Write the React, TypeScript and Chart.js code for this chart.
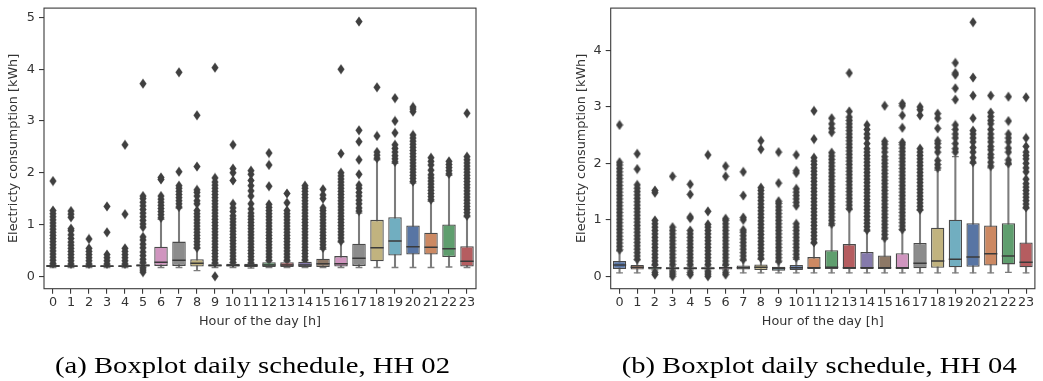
import React, { useEffect, useRef } from 'react';
import { Chart, registerables } from 'chart.js';

Chart.register(...registerables);

// ---------- shared categories / ticks ----------
const hours = ['0', '1', '2', '3', '4', '5', '6', '7', '8', '9', '10', '11', '12', '13', '14', '15', '16', '17', '18', '19', '20', '21', '22', '23'];
const palette = ['#5875A4', '#CC8963', '#5F9E6E', '#B55D60', '#857AAB', '#8D7866', '#D095BF', '#8C8C8C', '#C1B37F', '#71AEC0'];

// ---------- HH 02 ----------
const hh02YTicks = [0, 1, 2, 3, 4, 5];
const hh02Whislo = [0.17, 0.17, 0.17, 0.17, 0.17, 0.18, 0.17, 0.17, 0.11, 0.17, 0.17, 0.16, 0.17, 0.17, 0.17, 0.17, 0.17, 0.17, 0.17, 0.17, 0.17, 0.17, 0.18, 0.17];
const hh02Q1 = [0.18, 0.18, 0.18, 0.18, 0.18, 0.19, 0.2, 0.2, 0.19, 0.19, 0.19, 0.18, 0.18, 0.18, 0.18, 0.18, 0.19, 0.2, 0.29, 0.4, 0.42, 0.42, 0.37, 0.19];
const hh02Med = [0.2, 0.2, 0.2, 0.2, 0.2, 0.21, 0.27, 0.31, 0.25, 0.21, 0.21, 0.21, 0.22, 0.22, 0.22, 0.24, 0.24, 0.35, 0.55, 0.68, 0.57, 0.56, 0.53, 0.29];
const hh02Q3 = [0.22, 0.21, 0.21, 0.21, 0.21, 0.23, 0.57, 0.67, 0.33, 0.23, 0.24, 0.24, 0.27, 0.27, 0.28, 0.34, 0.39, 0.63, 1.09, 1.14, 0.98, 0.84, 1.0, 0.58];
const hh02Whishi = [0.23, 0.22, 0.22, 0.22, 0.22, 0.25, 1.1, 1.32, 0.54, 0.25, 0.26, 0.25, 0.3, 0.29, 0.3, 0.52, 0.66, 1.22, 2.25, 2.18, 1.8, 1.45, 1.95, 1.15];
const hh02Outliers = [
  [0.25, 0.31, 0.37, 0.43, 0.49, 0.55, 0.61, 0.67, 0.73, 0.79, 0.85, 0.91, 0.97, 1.03, 1.09, 1.15, 1.21, 1.27, 1.84],
  [0.24, 0.3, 0.36, 0.42, 0.48, 0.54, 0.6, 0.66, 0.73, 0.8, 0.88, 0.92, 1.14, 1.2, 1.26],
  [0.24, 0.3, 0.36, 0.42, 0.48, 0.54, 0.72],
  [0.24, 0.3, 0.36, 0.42, 0.85, 1.35],
  [0.24, 0.3, 0.36, 0.42, 0.48, 0.54, 1.2, 2.54],
  [0.08, 0.12, 0.16, 0.27, 0.33, 0.4, 0.47, 0.55, 0.62, 0.7, 0.76, 0.95, 1.01, 1.08, 1.15, 1.22, 1.29, 1.36, 1.43, 1.5, 1.55, 3.72],
  [1.13, 1.19, 1.25, 1.31, 1.37, 1.43, 1.49, 1.55, 1.87, 1.91],
  [1.34, 1.4, 1.46, 1.52, 1.58, 1.64, 1.7, 1.75, 2.02, 3.94],
  [0.55, 0.61, 0.67, 0.73, 0.79, 0.85, 0.91, 0.97, 1.03, 1.09, 1.15, 1.21, 1.27, 1.4, 1.46, 1.55, 1.62, 1.67, 2.12, 3.11],
  [0.0, 0.26, 0.32, 0.38, 0.44, 0.5, 0.56, 0.62, 0.68, 0.74, 0.8, 0.86, 0.92, 0.98, 1.04, 1.1, 1.16, 1.22, 1.28, 1.34, 1.4, 1.46, 1.52, 1.58, 1.64, 1.7, 1.76, 1.82, 1.9, 4.03],
  [0.27, 0.33, 0.39, 0.45, 0.51, 0.57, 0.63, 0.69, 0.75, 0.81, 0.87, 0.93, 0.99, 1.05, 1.11, 1.17, 1.25, 1.32, 1.4, 1.85, 2.0, 2.08, 2.54],
  [0.26, 0.32, 0.38, 0.44, 0.5, 0.56, 0.62, 0.68, 0.74, 0.8, 0.86, 0.92, 0.98, 1.04, 1.1, 1.16, 1.22, 1.3, 1.4, 1.55, 1.65, 1.75, 1.85, 1.97, 2.04],
  [0.31, 0.37, 0.43, 0.49, 0.55, 0.61, 0.67, 0.73, 0.79, 0.85, 0.91, 0.97, 1.03, 1.09, 1.15, 1.21, 1.27, 1.33, 1.39, 1.74, 2.15, 2.38],
  [0.31, 0.37, 0.43, 0.49, 0.55, 0.61, 0.67, 0.73, 0.79, 0.85, 0.91, 0.97, 1.03, 1.09, 1.15, 1.21, 1.27, 1.42, 1.6],
  [0.32, 0.38, 0.44, 0.5, 0.56, 0.62, 0.68, 0.74, 0.8, 0.86, 0.92, 0.98, 1.04, 1.1, 1.16, 1.22, 1.28, 1.34, 1.4, 1.46, 1.52, 1.58, 1.64, 1.7, 1.75],
  [0.55, 0.61, 0.67, 0.73, 0.79, 0.85, 0.91, 0.97, 1.03, 1.09, 1.15, 1.21, 1.27, 1.32, 1.5, 1.57, 1.68],
  [0.68, 0.74, 0.8, 0.86, 0.92, 0.98, 1.04, 1.1, 1.16, 1.22, 1.28, 1.34, 1.4, 1.46, 1.52, 1.58, 1.64, 1.7, 1.76, 1.82, 1.88, 1.94, 2.0, 2.37, 4.0],
  [1.26, 1.32, 1.4, 1.47, 1.55, 1.62, 1.7, 1.76, 1.97, 2.25, 2.6, 2.82, 4.92],
  [2.28, 2.34, 2.4, 2.71, 3.65],
  [2.21, 2.27, 2.33, 2.4, 2.47, 2.54, 2.77, 3.0, 3.44],
  [1.83, 1.89, 1.95, 2.01, 2.07, 2.13, 2.19, 2.25, 2.31, 2.37, 2.43, 2.49, 2.55, 2.61, 2.67, 2.73, 3.18, 3.23, 3.27],
  [1.48, 1.54, 1.6, 1.66, 1.72, 1.78, 1.84, 1.9, 1.96, 2.05, 2.15, 2.22, 2.29],
  [1.98, 2.04, 2.1, 2.16, 2.22],
  [1.17, 1.23, 1.29, 1.35, 1.41, 1.47, 1.53, 1.59, 1.65, 1.71, 1.77, 1.83, 1.89, 1.95, 2.01, 2.07, 2.13, 2.19, 2.25, 2.31, 3.15],
];

// ---------- HH 04 ----------
const hh04YTicks = [0, 1, 2, 3, 4];
const hh04Whislo = [0.06, 0.06, 0.11, 0.11, 0.11, 0.11, 0.11, 0.06, 0.06, 0.06, 0.06, 0.06, 0.06, 0.06, 0.06, 0.06, 0.06, 0.06, 0.06, 0.06, 0.06, 0.06, 0.07, 0.06];
const hh04Q1 = [0.13, 0.12, 0.12, 0.12, 0.12, 0.12, 0.12, 0.12, 0.11, 0.1, 0.11, 0.13, 0.13, 0.13, 0.13, 0.13, 0.13, 0.14, 0.15, 0.16, 0.17, 0.19, 0.21, 0.16];
const hh04Med = [0.2, 0.16, 0.15, 0.14, 0.14, 0.14, 0.15, 0.15, 0.16, 0.14, 0.15, 0.15, 0.16, 0.15, 0.15, 0.15, 0.15, 0.23, 0.27, 0.3, 0.34, 0.4, 0.36, 0.25];
const hh04Q3 = [0.27, 0.2, 0.17, 0.16, 0.16, 0.16, 0.17, 0.19, 0.21, 0.17, 0.2, 0.34, 0.46, 0.57, 0.43, 0.37, 0.41, 0.59, 0.86, 1.0, 0.94, 0.9, 0.94, 0.6];
const hh04Whishi = [0.45, 0.29, 0.19, 0.18, 0.18, 0.18, 0.19, 0.28, 0.3, 0.25, 0.3, 0.58, 0.9, 1.18, 0.8, 0.66, 0.82, 1.17, 1.88, 2.12, 2.0, 1.92, 1.98, 1.2];
const hh04Outliers = [
  [0.47, 0.53, 0.59, 0.65, 0.71, 0.77, 0.83, 0.89, 0.95, 1.01, 1.07, 1.13, 1.19, 1.25, 1.31, 1.37, 1.43, 1.49, 1.55, 1.61, 1.67, 1.73, 1.79, 1.85, 1.91, 1.97, 2.02, 2.68],
  [0.3, 0.36, 0.42, 0.48, 0.54, 0.6, 0.66, 0.72, 0.78, 0.84, 0.9, 0.96, 1.02, 1.08, 1.14, 1.2, 1.26, 1.32, 1.38, 1.44, 1.5, 1.56, 1.62, 1.9, 2.17],
  [0.03, 0.07, 0.21, 0.27, 0.33, 0.39, 0.45, 0.51, 0.57, 0.63, 0.69, 0.75, 0.81, 0.87, 0.93, 0.99, 1.48, 1.52],
  [0.0, 0.04, 0.08, 0.21, 0.27, 0.33, 0.39, 0.45, 0.51, 0.57, 0.63, 0.69, 0.75, 0.81, 0.87, 1.77],
  [0.03, 0.07, 0.21, 0.27, 0.33, 0.39, 0.45, 0.51, 0.57, 0.63, 0.69, 0.75, 0.81, 1.03, 1.05, 1.45, 1.63],
  [0.0, 0.04, 0.08, 0.21, 0.27, 0.33, 0.39, 0.45, 0.51, 0.57, 0.63, 0.69, 0.75, 0.81, 0.87, 0.92, 1.15, 2.15],
  [0.03, 0.07, 0.21, 0.27, 0.33, 0.39, 0.45, 0.51, 0.57, 0.63, 0.69, 0.75, 0.81, 0.87, 0.93, 0.99, 1.02, 1.77, 1.95],
  [0.3, 0.36, 0.42, 0.48, 0.54, 0.6, 0.66, 0.72, 0.78, 0.82, 1.0, 1.04, 1.43, 1.85],
  [0.32, 0.38, 0.44, 0.5, 0.56, 0.62, 0.68, 0.74, 0.8, 0.86, 0.92, 0.98, 1.04, 1.1, 1.16, 1.22, 1.28, 1.34, 1.4, 1.46, 1.52, 1.57, 2.25, 2.4],
  [0.27, 0.33, 0.39, 0.45, 0.51, 0.57, 0.63, 0.69, 0.75, 0.81, 0.87, 0.93, 0.99, 1.05, 1.11, 1.17, 1.23, 1.29, 1.33, 1.65, 2.2],
  [0.33, 0.39, 0.45, 0.51, 0.57, 0.63, 0.69, 0.75, 0.81, 0.87, 0.93, 1.25, 1.31, 1.37, 1.43, 1.49, 1.55, 1.83, 1.87, 2.15],
  [0.6, 0.66, 0.72, 0.78, 0.84, 0.9, 0.96, 1.02, 1.08, 1.14, 1.2, 1.26, 1.32, 1.38, 1.44, 1.5, 1.56, 1.62, 1.68, 1.74, 1.8, 1.86, 1.92, 1.98, 2.04, 2.1, 2.43, 2.93],
  [0.93, 0.99, 1.05, 1.11, 1.17, 1.23, 1.29, 1.35, 1.41, 1.47, 1.53, 1.59, 1.65, 1.71, 1.77, 1.83, 1.89, 1.95, 2.01, 2.07, 2.13, 2.19, 2.55, 2.62, 2.7, 2.8],
  [1.2, 1.26, 1.32, 1.38, 1.44, 1.5, 1.56, 1.62, 1.68, 1.74, 1.8, 1.86, 1.92, 1.98, 2.04, 2.1, 2.16, 2.22, 2.28, 2.34, 2.4, 2.46, 2.52, 2.58, 2.64, 2.7, 2.76, 2.82, 2.92, 3.6],
  [0.82, 0.88, 0.94, 1.0, 1.06, 1.12, 1.18, 1.24, 1.3, 1.36, 1.42, 1.48, 1.54, 1.6, 1.66, 1.72, 1.78, 1.84, 1.9, 1.96, 2.02, 2.08, 2.14, 2.2, 2.26, 2.35, 2.45, 2.52, 2.6, 2.68],
  [0.68, 0.74, 0.8, 0.86, 0.92, 0.98, 1.04, 1.1, 1.16, 1.22, 1.28, 1.34, 1.4, 1.46, 1.52, 1.58, 1.64, 1.7, 1.76, 1.82, 1.88, 1.94, 2.0, 2.06, 2.12, 2.2, 2.27, 2.34, 2.39, 3.02],
  [0.83, 0.89, 0.95, 1.01, 1.07, 1.13, 1.19, 1.25, 1.31, 1.37, 1.43, 1.49, 1.55, 1.61, 1.67, 1.73, 1.79, 1.85, 1.91, 1.97, 2.03, 2.09, 2.15, 2.21, 2.27, 2.33, 2.37, 2.63, 2.85, 3.02, 3.06],
  [1.18, 1.24, 1.3, 1.36, 1.42, 1.48, 1.54, 1.6, 1.66, 1.72, 1.78, 1.84, 1.9, 1.96, 2.02, 2.08, 2.14, 2.2, 2.26, 2.85, 2.95, 3.0],
  [1.92, 1.98, 2.05, 2.2, 2.28, 2.35, 2.4, 2.62, 2.8, 2.88],
  [2.2, 2.26, 2.35, 2.45, 2.52, 2.6, 2.68, 3.13, 3.33, 3.57, 3.6, 3.78],
  [2.02, 2.1, 2.2, 2.28, 2.38, 2.45, 2.52, 2.58, 2.8, 3.2, 3.52, 4.5],
  [1.95, 2.02, 2.1, 2.16, 2.24, 2.3, 2.38, 2.45, 2.52, 2.6, 2.7, 2.76, 2.83, 2.9, 3.2],
  [2.0, 2.06, 2.2, 2.27, 2.38, 2.45, 2.52, 2.75, 3.18],
  [1.22, 1.28, 1.34, 1.4, 1.46, 1.52, 1.58, 1.64, 1.72, 1.85, 1.92, 2.0, 2.08, 2.14, 2.2, 2.3, 2.45, 3.17],
];

// ---------- styling ----------
const FONT = "'DejaVu Sans', sans-serif";
const TEXT = '#333333';
const SPINE = '#3a3a3a';
const BOX_EDGE = '#4a4a4a';
const WHISKER = '#7c7c7c';
const MEDIAN = '#3a3a3a';

function makeDiamond(): HTMLCanvasElement {
  const c = document.createElement('canvas');
  c.width = 8;
  c.height = 11;
  const g = c.getContext('2d')!;
  g.beginPath();
  g.moveTo(4, 0.4);
  g.lineTo(7.6, 5.5);
  g.lineTo(4, 10.6);
  g.lineTo(0.4, 5.5);
  g.closePath();
  g.fillStyle = '#3f3f3f';
  g.fill();
  return c;
}

const framePlugin = {
  id: 'frame',
  afterDraw(chart: any) {
    const { ctx, chartArea } = chart;
    const { left, top, right, bottom } = chartArea;
    ctx.save();
    ctx.strokeStyle = SPINE;
    ctx.lineWidth = 1.1;
    ctx.strokeRect(left, top, right - left, bottom - top);
    ctx.restore();
  },
};

type PanelProps = {
  left: number;
  width: number;
  height: number;
  padLeft: number;
  padRight: number;
  axisWidth: number;
  yMin: number;
  yMax: number;
  yTicks: number[];
  whislo: number[];
  q1: number[];
  med: number[];
  q3: number[];
  whishi: number[];
  outliers: number[][];
};

function BoxPanel(p: PanelProps) {
  const ref = useRef<HTMLCanvasElement>(null);
  useEffect(() => {
    const canvas = ref.current;
    if (!canvas) return;
    const diamond = makeDiamond();
    const boxColors = hours.map((_, i) => palette[i % palette.length]);
    const tickFont = { family: FONT, size: 12.8 };
    const chart = new Chart(canvas, {
      type: 'bar',
      data: {
        labels: hours,
        datasets: [
          {
            type: 'bar',
            data: hours.map((_, i) => [p.whislo[i], p.whishi[i]]),
            backgroundColor: WHISKER,
            borderWidth: 0,
            barThickness: 1.4,
            grouped: false,
            order: 5,
          } as any,
          {
            type: 'line',
            data: hours.flatMap((h, i) => [{ x: h, y: p.whislo[i] }, { x: h, y: p.whishi[i] }]),
            showLine: false,
            pointStyle: 'line',
            pointRadius: 3.4,
            pointBorderColor: WHISKER,
            pointBorderWidth: 1.4,
            order: 4,
          } as any,
          {
            type: 'line',
            data: p.outliers.flatMap((vals, i) => vals.map((v) => ({ x: hours[i], y: v }))),
            showLine: false,
            pointStyle: diamond,
            pointRadius: 4,
            order: 3,
          } as any,
          {
            type: 'bar',
            data: hours.map((_, i) => [p.q1[i], p.q3[i]]),
            backgroundColor: boxColors,
            borderColor: BOX_EDGE,
            borderWidth: 1.3,
            borderSkipped: false,
            barPercentage: 0.75,
            categoryPercentage: 1,
            grouped: false,
            order: 2,
          } as any,
          {
            type: 'line',
            data: hours.map((h, i) => ({ x: h, y: p.med[i] })),
            showLine: false,
            pointStyle: 'line',
            pointRadius: 6.6,
            pointBorderColor: MEDIAN,
            pointBorderWidth: 1.5,
            order: 1,
          } as any,
        ],
      },
      options: {
        animation: false,
        responsive: false,
        devicePixelRatio: 1,
        events: [],
        layout: { padding: { left: p.padLeft, right: p.padRight, top: 7.3, bottom: 0 } },
        plugins: { legend: { display: false }, tooltip: { enabled: false } },
        scales: {
          x: {
            type: 'category',
            offset: true,
            grid: { display: true, offset: false, drawOnChartArea: false, drawTicks: true, tickLength: 5, color: SPINE, lineWidth: 1.1 },
            border: { display: false },
            ticks: { autoSkip: false, maxRotation: 0, minRotation: 0, padding: 1, color: TEXT, font: tickFont },
            title: { display: true, text: 'Hour of the day [h]', color: TEXT, font: tickFont, padding: { top: 0, bottom: 10.6 } },
            afterFit: (s: any) => {
              s.height = 51.3;
              s.paddingLeft = 0;
              s.paddingRight = 0;
            },
          },
          y: {
            type: 'linear',
            min: p.yMin,
            max: p.yMax,
            afterBuildTicks: (s: any) => {
              s.ticks = p.yTicks.map((v) => ({ value: v }));
            },
            grid: { display: true, drawOnChartArea: false, drawTicks: true, tickLength: 5, color: SPINE, lineWidth: 1.1 },
            border: { display: false },
            ticks: { padding: 4, color: TEXT, font: tickFont },
            title: { display: true, text: 'Electricty consumption [kWh]', color: TEXT, font: tickFont, padding: { top: 6.3, bottom: 0 } },
            afterFit: (s: any) => {
              s.width = p.axisWidth;
              s.paddingTop = 0;
              s.paddingBottom = 0;
            },
          },
        },
      } as any,
      plugins: [framePlugin],
    });
    return () => chart.destroy();
  }, []);
  return (
    <canvas
      ref={ref}
      width={p.width}
      height={p.height}
      style={{ position: 'absolute', left: p.left, top: 0, width: p.width, height: p.height }}
    />
  );
}

export default function App() {
  return (
    <div style={{ position: 'absolute', left: 0, top: 0, width: 1043, height: 381, background: '#ffffff', overflow: 'hidden' }}>
      <BoxPanel
        left={0}
        width={520}
        height={340}
        padLeft={0}
        padRight={44}
        axisWidth={44}
        yMin={-0.24}
        yMax={5.18}
        yTicks={hh02YTicks}
        whislo={hh02Whislo}
        q1={hh02Q1}
        med={hh02Med}
        q3={hh02Q3}
        whishi={hh02Whishi}
        outliers={hh02Outliers}
      />
      <BoxPanel
        left={520}
        width={523}
        height={340}
        padLeft={47.7}
        padRight={0.7}
        axisWidth={43}
        yMin={-0.22}
        yMax={4.75}
        yTicks={hh04YTicks}
        whislo={hh04Whislo}
        q1={hh04Q1}
        med={hh04Med}
        q3={hh04Q3}
        whishi={hh04Whishi}
        outliers={hh04Outliers}
      />
      <svg width={1043} height={381} style={{ position: 'absolute', left: 0, top: 0, pointerEvents: 'none' }}>
        <text x={55} y={373} fontFamily="'Liberation Serif', 'DejaVu Serif', serif" fontSize={24} fill="#000" textLength={395} lengthAdjust="spacingAndGlyphs">
          (a) Boxplot daily schedule, HH 02
        </text>
        <text x={621.7} y={373} fontFamily="'Liberation Serif', 'DejaVu Serif', serif" fontSize={24} fill="#000" textLength={395} lengthAdjust="spacingAndGlyphs">
          (b) Boxplot daily schedule, HH 04
        </text>
      </svg>
    </div>
  );
}
